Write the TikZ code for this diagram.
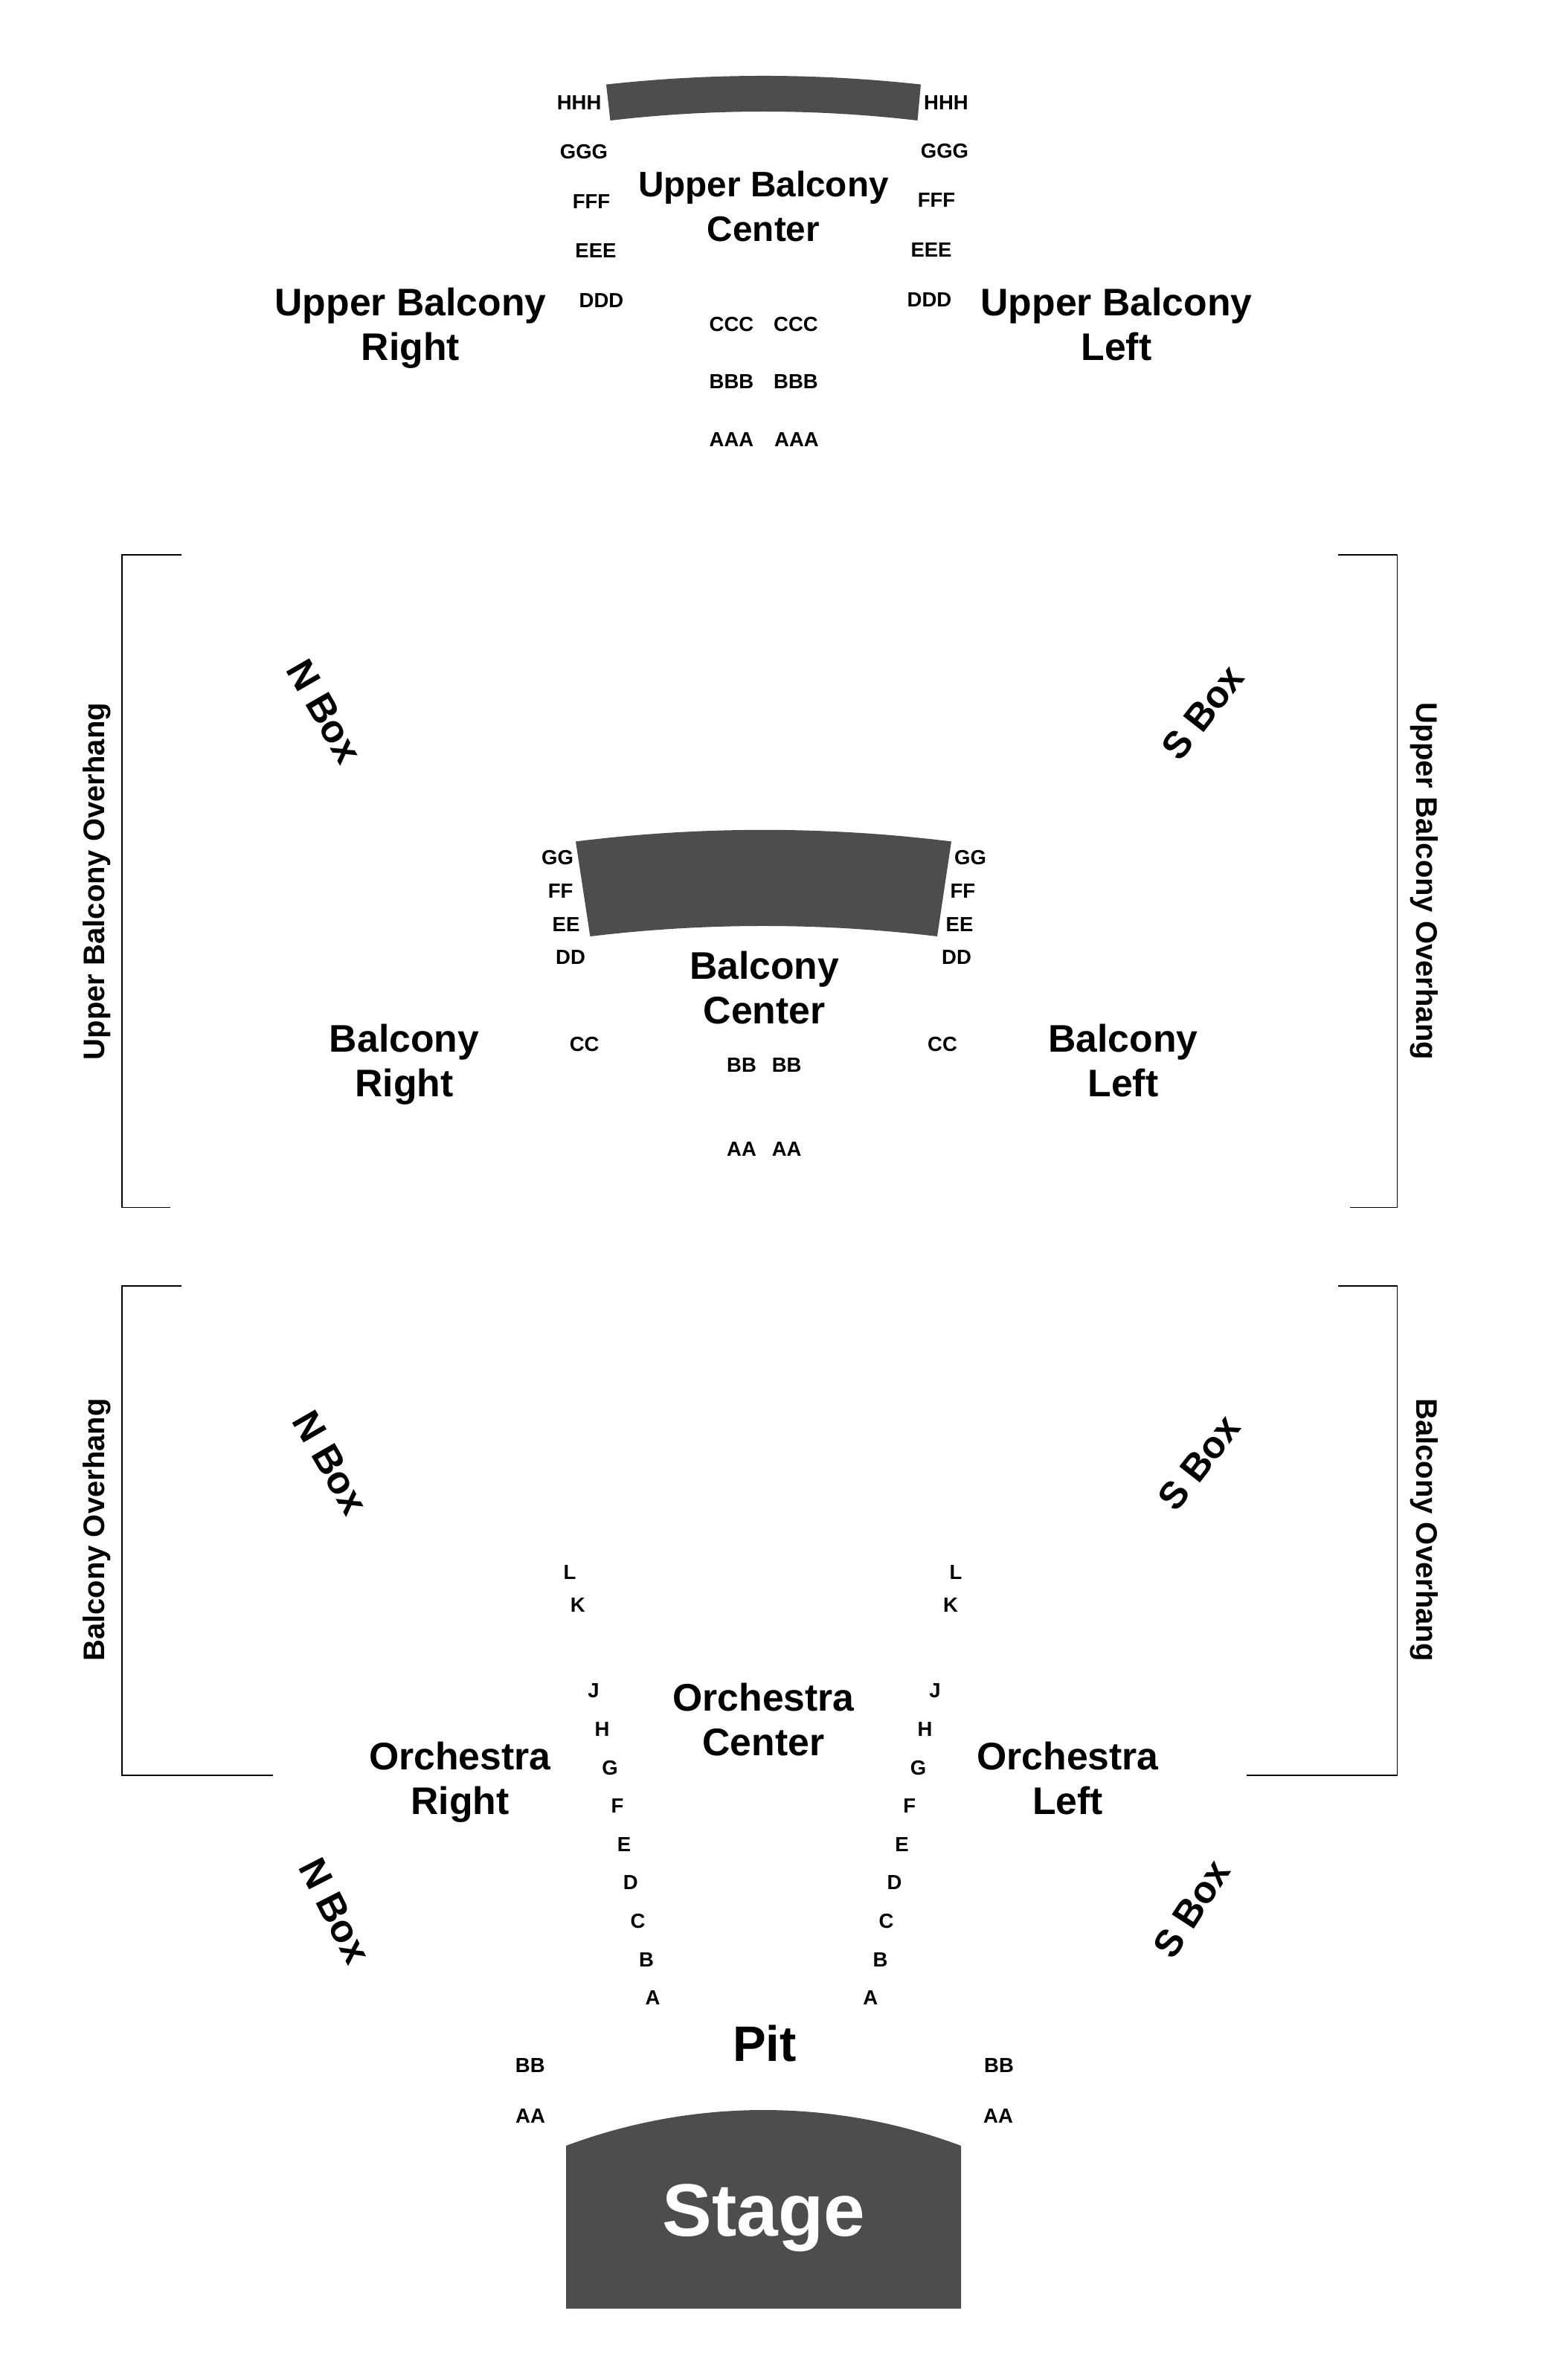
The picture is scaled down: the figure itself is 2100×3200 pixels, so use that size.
\documentclass[tikz,border=0pt]{standalone}
\usepackage{fontspec}
\setmainfont{Liberation Sans}
\definecolor{seatfill}{HTML}{4D4D4D}

\begin{document}
\begin{tikzpicture}[x=1pt,y=-1pt,
  inner sep=0pt,
  seat/.style={font=\fontsize{27.5}{33}\selectfont\bfseries,text height=20pt,text depth=0pt},
  zone/.style={font=\fontsize{51.7}{60}\selectfont\bfseries,align=center,anchor=base},
  overhang/.style={font=\fontsize{40}{48}\selectfont\bfseries,anchor=base},
  nbox/.style={font=\fontsize{52}{60}\selectfont\bfseries},
  sbox/.style={font=\fontsize{51}{60}\selectfont\bfseries},
  wall/.style={line width=1.1pt,line join=miter}]
\useasboundingbox (0,0) rectangle (2100,3200);
\fill [seatfill] (815,113.6) .. controls (956,98.1) and (1097,98.1) .. (1238,113.6)
  -- (1233.5,162) .. controls (1096,146) and (958,146) .. (820.5,162) -- cycle;
\node (hhh-r) [seat] at (778.6,138) {HHH};
\node (hhh-l) [seat] at (1272,137.5) {HHH};
\node (ggg-r) [seat] at (785,204) {GGG};
\node (ggg-l) [seat] at (1270,203) {GGG};
\node (fff-r) [seat] at (795,271) {FFF};
\node (fff-l) [seat] at (1259,269) {FFF};
\node (eee-r) [seat] at (801,337) {EEE};
\node (eee-l) [seat] at (1252,335) {EEE};
\node (ddd-r) [seat] at (808.5,403) {DDD};
\node (ddd-l) [seat] at (1249.5,402) {DDD};
\node (ccc-r) [seat] at (983.5,435) {CCC};
\node (ccc-l) [seat] at (1070,435) {CCC};
\node (bbb-r) [seat] at (983.5,512) {BBB};
\node (bbb-l) [seat] at (1070,512) {BBB};
\node (aaa-r) [seat] at (983.5,590) {AAA};
\node (aaa-l) [seat] at (1071,590) {AAA};
\node (up-center) [zone,font=\fontsize{47.7}{60}\selectfont\bfseries] at (1026.5,324.5) {Upper Balcony\\Center};
\node (up-right) [zone] at (552,484) {Upper Balcony\\Right};
\node (up-left) [zone] at (1501,484) {Upper Balcony\\Left};

\draw [wall] (244,746) -- (164,746) -- (164,1623.5) -- (228.6,1623.5);
\draw [wall] (1799,746) -- (1878.5,746) -- (1878.5,1623.5) -- (1814.5,1623.5);
\node (over-up-r) [overhang,rotate=90] at (140,1185) {Upper Balcony Overhang};
\node (over-up-l) [overhang,rotate=-90] at (1904,1185) {Upper Balcony Overhang};
\node (nbox-up) [nbox,rotate=-60] at (436,956.5) {N Box};
\node (sbox-up) [sbox,rotate=52] at (1617,958) {S Box};

\fill [seatfill] (774,1131.4) .. controls (942,1110.6) and (1111,1110.6) .. (1279,1131.4)
  -- (1260,1259) .. controls (1104,1240.3) and (949,1240.3) .. (793.4,1259) -- cycle;
\node (gg-r) [seat] at (749.5,1152) {GG};
\node (gg-l) [seat] at (1304.6,1152) {GG};
\node (ff-r) [seat] at (753.6,1197.5) {FF};
\node (ff-l) [seat] at (1294.4,1197.5) {FF};
\node (ee-r) [seat] at (761,1242) {EE};
\node (ee-l) [seat] at (1290,1242) {EE};
\node (dd-r) [seat] at (767,1286.5) {DD};
\node (dd-l) [seat] at (1286,1286.5) {DD};
\node (cc-r) [seat] at (785.7,1403.5) {CC};
\node (cc-l) [seat] at (1267,1403.5) {CC};
\node (bb-r) [seat] at (997,1431) {BB};
\node (bb-l) [seat] at (1057.6,1431) {BB};
\node (aa-r) [seat] at (997,1544) {AA};
\node (aa-l) [seat] at (1057.6,1544) {AA};
\node (bal-center) [zone] at (1027.6,1376.5) {Balcony\\Center};
\node (bal-right) [zone] at (543.5,1474) {Balcony\\Right};
\node (bal-left) [zone] at (1510,1474) {Balcony\\Left};

\draw [wall] (244,1729) -- (164,1729) -- (164,2387) -- (366.7,2387);
\draw [wall] (1799,1729) -- (1878.5,1729) -- (1878.5,2387) -- (1676,2387);
\node (over-bal-r) [overhang,rotate=90] at (140,2057) {Balcony Overhang};
\node (over-bal-l) [overhang,rotate=-90] at (1904,2057) {Balcony Overhang};
\node (nbox-mid) [nbox,rotate=-60] at (444,1966.5) {N Box};
\node (sbox-mid) [sbox,rotate=52] at (1612,1966.5) {S Box};
\node (nbox-low) [nbox,rotate=-63] at (450,2569) {N Box};
\node (sbox-low) [sbox,rotate=57] at (1602,2566.7) {S Box};

\node (l-r) [seat] at (766,2113.5) {L};
\node (l-l) [seat] at (1285,2113.5) {L};
\node (k-r) [seat] at (776.7,2157.5) {K};
\node (k-l) [seat] at (1278,2157.5) {K};
\node (j-r) [seat] at (798,2272) {J};
\node (j-l) [seat] at (1257,2272) {J};
\node (h-r) [seat] at (809.5,2324) {H};
\node (h-l) [seat] at (1243.5,2324) {H};
\node (g-r) [seat] at (820,2376) {G};
\node (g-l) [seat] at (1234.5,2376) {G};
\node (f-r) [seat] at (830,2427) {F};
\node (f-l) [seat] at (1222.7,2427) {F};
\node (e-r) [seat] at (839,2479) {E};
\node (e-l) [seat] at (1212.5,2479) {E};
\node (d-r) [seat] at (847.7,2530) {D};
\node (d-l) [seat] at (1202.5,2530) {D};
\node (c-r) [seat] at (857.5,2582) {C};
\node (c-l) [seat] at (1191.5,2582) {C};
\node (b-r) [seat] at (869,2634) {B};
\node (b-l) [seat] at (1183.5,2634) {B};
\node (a-r) [seat] at (877.5,2685.5) {A};
\node (a-l) [seat] at (1170.4,2685.5) {A};
\node (orch-center) [zone] at (1026.5,2360) {Orchestra\\Center};
\node (orch-right) [zone] at (618.4,2439) {Orchestra\\Right};
\node (orch-left) [zone] at (1435.5,2439) {Orchestra\\Left};

\node (pit) [zone,font=\fontsize{67}{72}\selectfont\bfseries] at (1028,2771) {Pit};
\node (pit-bb-r) [seat] at (712.8,2776) {BB};
\node (pit-bb-l) [seat] at (1343,2776) {BB};
\node (pit-aa-r) [seat] at (713,2844) {AA};
\node (pit-aa-l) [seat] at (1342,2844) {AA};

\fill [seatfill] (761,3104) -- (761,2885) .. controls (932,2821) and (1121,2821) .. (1292,2885)
  -- (1292,3104) -- cycle;
\node (stage) [zone,font=\fontsize{100}{110}\selectfont\bfseries,text=white] at (1026.6,3006.5) {Stage};
\end{tikzpicture}
\end{document}
